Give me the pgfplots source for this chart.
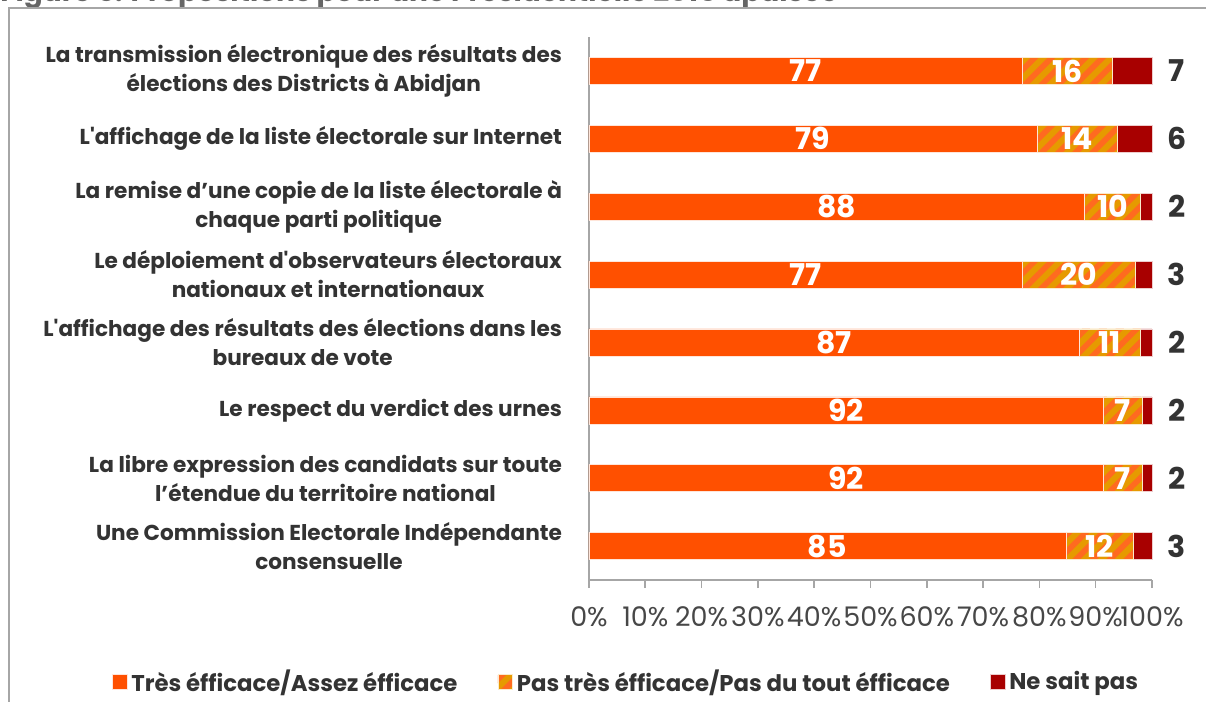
\documentclass[border=0pt]{standalone}
\usepackage{pgfplots}
\pgfplotsset{compat=1.18}
\usepackage{pgfplotstable}
\usepackage{fontspec}
\setmainfont{Poppins}
\usetikzlibrary{patterns.meta}
\definecolor{cA}{HTML}{FF5000}
\definecolor{cB}{HTML}{E69A00}
\definecolor{cBs}{HTML}{FF6A20}
\definecolor{cC}{HTML}{A80000}
\definecolor{txt}{HTML}{333333}
\definecolor{axg}{HTML}{A6A6A6}

% y: row position (8 = top row); a,b,c: bar shares; la,lb,lc: printed values
% ca, cb, cc: where the printed values sit
\pgfplotstableread{
y  a     b     c    la lb lc ca    cb    cc
8  77.0  16.0  7.0  77 16 7  38.5  85.0  104.4
7  79.6  14.2  6.2  79 14 6  39.8  86.7  104.4
6  88.0  10.0  2.0  88 10 2  44.0  93.0  104.4
5  77.0  20.0  3.0  77 20 3  38.5  87.0  104.4
4  87.0  11.0  2.0  87 11 2  43.5  92.5  104.4
3  91.4  6.8   1.8  92 7  2  45.7  94.8  104.4
2  91.4  6.8   1.8  92 7  2  45.7  94.8  104.4
1  84.7  12.0  3.3  85 12 3  42.35 90.7  104.4
}\datatable

\pgfplotsset{
  frame/.style={
    at={(294.5pt,61pt)}, anchor=south west,
    scale only axis, width=281.5pt, height=271.5pt,
    xmin=0, xmax=100, ymin=0.5, ymax=8.5, clip=false,
  },
  barlab/.style={only marks, mark=none, nodes near coords, point meta=explicit symbolic,
    every node near coord/.style={anchor=center, inner sep=0pt, text=#1, font=\bfseries\fontsize{15}{15}\selectfont}},
}

\begin{document}
\begin{tikzpicture}[x=1pt,y=1pt]
\useasboundingbox (0,0) rectangle (603,351);
% figure title, cut by the top edge
\node[anchor=base west, inner sep=0, font=\bfseries\fontsize{14}{15}\selectfont, text=gray!80!black] at (0,350) {Figure 6: Propositions pour une Présidentielle 2015 apaisée};
\draw[axg, line width=0.7pt] (4.5,0) -- (4.5,347) -- (603,347);
\begin{axis}[
  frame,
  xbar stacked, bar width=13.5pt,
  axis lines*=left,
  axis line style={axg, line width=0.8pt, -},
  xtick={0,10,...,100},
  xticklabel={\pgfmathprintnumber{\tick}\%},
  xticklabel style={font=\fontsize{13.5}{15}\selectfont, text=txt!90, yshift=-6pt},
  /pgf/number format/assume math mode=true,
  ytick={1,...,8},
  yticklabels={{Une Commission Electorale Indépendante\\consensuelle},
    {La libre expression des candidats sur toute\\l’étendue du territoire national},
    {Le respect du verdict des urnes},
    {L\textquotesingle affichage des résultats des élections dans les\\bureaux de vote},
    {Le déploiement d\textquotesingle observateurs électoraux\\nationaux et internationaux},
    {La remise d’une copie de la liste électorale à\\chaque parti politique},
    {L\textquotesingle affichage de la liste électorale sur Internet},
    {La transmission électronique des résultats des\\élections des Districts à Abidjan}},
  yticklabel style={font=\bfseries\fontsize{10.8}{14.5}\selectfont, text=txt, align=center, xshift=-6pt},
  minor ytick={0.5,1.5,...,8.5},
  major tick length=4pt,
  every major tick/.append style={axg, line width=0.8pt},
  every minor tick/.append style={axg, line width=0.8pt},
  minor tick length=4pt,
  ytick style={draw=none},
  tick align=outside,
  legend columns=3,
  legend style={draw=none, fill=none, at={(0.0675,-0.188)}, anchor=center,
    font=\bfseries\fontsize{11.4}{12}\selectfont, text=txt,
    /tikz/every even column/.append style={column sep=18pt}},
  legend image code/.code={\fill[#1] (0pt,-3.4pt) rectangle (7.4pt,4pt);},
]
\addplot[fill=cA, draw=white!85!cA, line width=0.3pt]
  table[x=a, y=y] {\datatable};
\addlegendentry{Très éfficace/Assez éfficace}
\addplot[fill=cB, draw=white!80!cB, line width=0.3pt,
  postaction={pattern={Lines[angle=45, distance=6pt, line width=2.8pt]}, pattern color=cBs}]
  table[x=b, y=y] {\datatable};
\addlegendentry{Pas très éfficace/Pas du tout éfficace}
\addplot[fill=cC, draw=white!80!cC, line width=0.3pt]
  table[x=c, y=y] {\datatable};
\addlegendentry{Ne sait pas}
\end{axis}
\begin{axis}[frame, hide axis]
\addplot[barlab=white] table[x=ca, y=y, meta=la] {\datatable};
\addplot[barlab=white] table[x=cb, y=y, meta=lb] {\datatable};
\addplot[barlab=txt] table[x=cc, y=y, meta=lc] {\datatable};
\end{axis}
\end{tikzpicture}
\end{document}
